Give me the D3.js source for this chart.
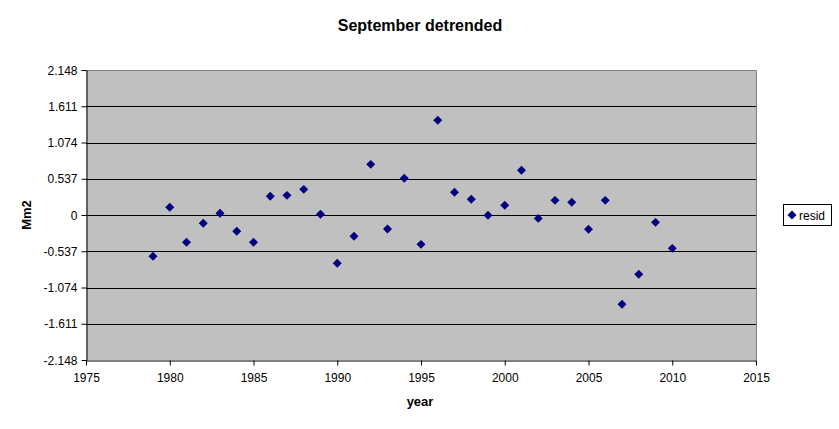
<!DOCTYPE html>
<html><head><meta charset="utf-8">
<script src="https://cdn.jsdelivr.net/npm/d3@7"></script>
<style>body{margin:0;background:#fff;} text{font-family:"Liberation Sans",Arial,sans-serif;}</style>
</head><body>
<svg id="c" width="839" height="429"></svg>
<script>
const years = [1979,1980,1981,1982,1983,1984,1985,1986,1987,1988,1989,1990,1991,1992,1993,1994,1995,1996,1997,1998,1999,2000,2001,2002,2003,2004,2005,2006,2007,2008,2009,2010];
const resid = [-0.612,0.114,-0.405,-0.123,0.025,-0.242,-0.405,0.277,0.291,0.380,0.010,-0.716,-0.316,0.750,-0.207,0.543,-0.435,1.403,0.336,0.232,-0.005,0.143,0.662,-0.050,0.217,0.188,-0.212,0.217,-1.323,-0.879,-0.109,-0.494];
const yTicks = [-2.148,-1.611,-1.074,-0.537,0,0.537,1.074,1.611,2.148];
const xTicks = [1975,1980,1985,1990,1995,2000,2005,2010,2015];

const svg = d3.select("#c");
const L=86, R=756, T=70, B=360;
const x = d3.scaleLinear().domain([1975,2015]).range([L,R]);
const y = d3.scaleLinear().domain([-2.148,2.148]).range([B,T]);

svg.append("rect").attr("x",L).attr("y",T).attr("width",R-L).attr("height",B-T).attr("fill","#c0c0c0");
svg.append("g").selectAll("line").data(yTicks.slice(1,-1)).join("line")
  .attr("x1",L).attr("x2",R).attr("y1",d=>Math.round(y(d))+0.5).attr("y2",d=>Math.round(y(d))+0.5)
  .attr("stroke","#000").attr("stroke-width",1);
svg.append("path").attr("d",`M${L},${T+0.5}H${R+0.5}V${B}`).attr("fill","none").attr("stroke","#808080");

const fmt = d => d===0 ? "0" : d3.format(".3f")(d).replace("−","-");
const ya = svg.append("g").attr("transform",`translate(${L+0.5},0)`)
  .call(d3.axisLeft(y).tickValues(yTicks).tickFormat(fmt).tickSize(5).tickSizeOuter(0));
const xa = svg.append("g").attr("transform",`translate(0,${B+0.5})`)
  .call(d3.axisBottom(x).tickValues(xTicks).tickFormat(d3.format("d")).tickSize(5).tickSizeOuter(0));
[ya,xa].forEach(a=>{
  a.selectAll("path,line").attr("stroke","#000");
  a.selectAll("text").attr("fill","#000").style("font-size","12px").style("font-family","'Liberation Sans',Arial,sans-serif");
});
ya.selectAll("text").attr("x",-9).attr("dy","0.35em");
xa.selectAll("text").attr("y",13).attr("dy","0.71em");

const diamond = {draw(ctx, size){ const r=Math.sqrt(size/2); ctx.moveTo(0,-r); ctx.lineTo(r,0); ctx.lineTo(0,r); ctx.lineTo(-r,0); ctx.closePath(); }};
const sym = d3.symbol().type(diamond).size(40);
svg.append("g").selectAll("path").data(years).join("path")
  .attr("d",sym).attr("transform",(d,i)=>`translate(${x(d)},${y(resid[i])})`).attr("fill","#000080");

svg.append("text").attr("x",420).attr("y",31).attr("text-anchor","middle").style("font-size","16px").style("font-weight","bold").text("September detrended");
svg.append("text").attr("x",420).attr("y",406).attr("text-anchor","middle").style("font-size","13px").style("font-weight","bold").text("year");
svg.append("text").attr("transform","translate(31,215) rotate(-90)").attr("text-anchor","middle").style("font-size","13px").style("font-weight","bold").text("Mm2");

const lg = svg.append("g");
lg.append("rect").attr("x",783.5).attr("y",204.5).attr("width",48).attr("height",21).attr("fill","#fff").attr("stroke","#000");
lg.append("path").attr("d",sym).attr("transform","translate(792,215)").attr("fill","#000080");
lg.append("text").attr("x",799).attr("y",219.5).style("font-size","12px").text("resid");
</script>
</body></html>
